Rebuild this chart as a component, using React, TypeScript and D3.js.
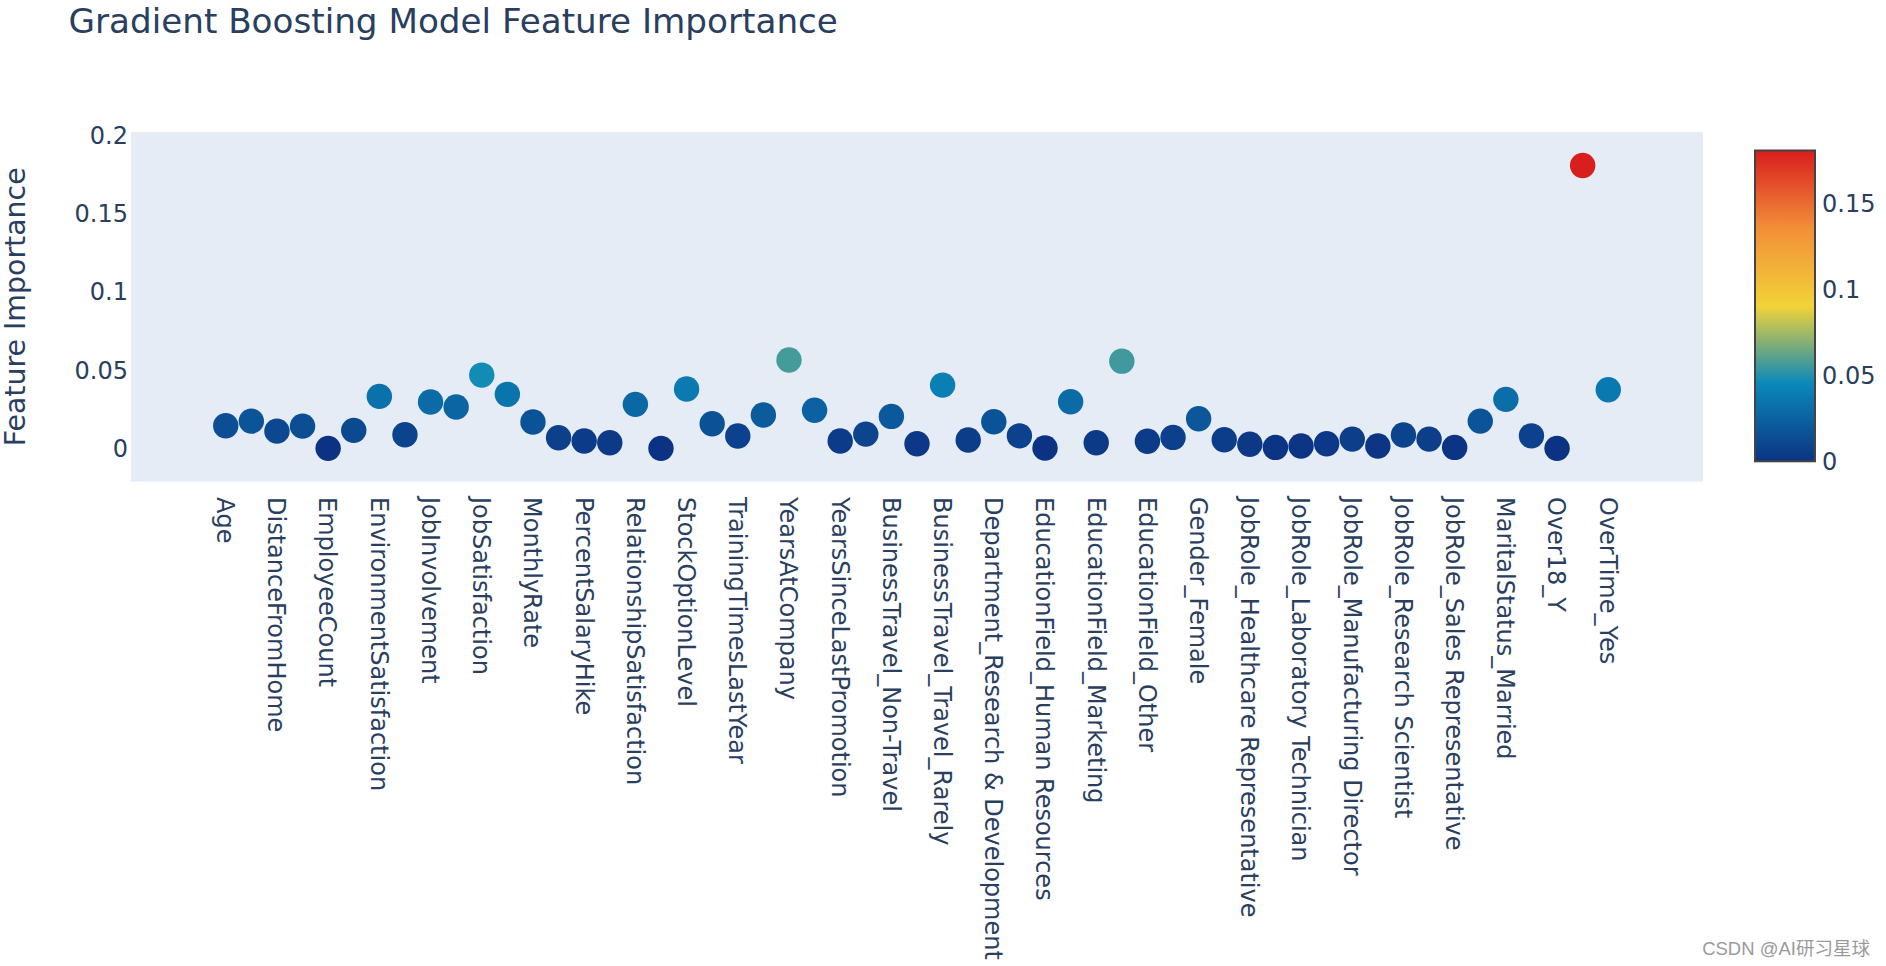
import React from "react";
import * as d3 from "d3";

const features: string[] = [
  "Age", "DailyRate", "DistanceFromHome", "Education", "EmployeeCount", "EmployeeNumber",
  "EnvironmentSatisfaction", "HourlyRate", "JobInvolvement", "JobLevel", "JobSatisfaction",
  "MonthlyIncome", "MonthlyRate", "NumCompaniesWorked", "PercentSalaryHike", "PerformanceRating",
  "RelationshipSatisfaction", "StandardHours", "StockOptionLevel", "TotalWorkingYears",
  "TrainingTimesLastYear", "WorkLifeBalance", "YearsAtCompany", "YearsInCurrentRole",
  "YearsSinceLastPromotion", "YearsWithCurrManager", "BusinessTravel_Non-Travel",
  "BusinessTravel_Travel_Frequently", "BusinessTravel_Travel_Rarely", "Department_Human Resources",
  "Department_Research & Development", "Department_Sales", "EducationField_Human Resources",
  "EducationField_Life Sciences", "EducationField_Marketing", "EducationField_Medical",
  "EducationField_Other", "EducationField_Technical Degree", "Gender_Female", "Gender_Male",
  "JobRole_Healthcare Representative", "JobRole_Human Resources", "JobRole_Laboratory Technician",
  "JobRole_Manager", "JobRole_Manufacturing Director", "JobRole_Research Director",
  "JobRole_Research Scientist", "JobRole_Sales Executive", "JobRole_Sales Representative",
  "MaritalStatus_Divorced", "MaritalStatus_Married", "MaritalStatus_Single", "Over18_Y",
  "OverTime_No", "OverTime_Yes",
];

const importance: number[] = [
  0.0144, 0.0174, 0.0110, 0.0142, 0.0000, 0.0115, 0.0332, 0.0087, 0.0296, 0.0264,
  0.0468, 0.0345, 0.0168, 0.0068, 0.0047, 0.0036, 0.0281, 0.0000, 0.0379, 0.0157,
  0.0079, 0.0213, 0.0564, 0.0243, 0.0047, 0.0091, 0.0204, 0.0029, 0.0404, 0.0053,
  0.0170, 0.0080, 0.0002, 0.0298, 0.0036, 0.0557, 0.0045, 0.0070, 0.0189, 0.0055,
  0.0026, 0.0006, 0.0015, 0.0029, 0.0059, 0.0015, 0.0085, 0.0059, 0.0006, 0.0174,
  0.0313, 0.0080, 0.0000, 0.1807, 0.0374,
];

const yTicks: number[] = [0, 0.05, 0.1, 0.15, 0.2];
const colorTicks: number[] = [0, 0.05, 0.1, 0.15];

const portlandStops: number[] = [0, 0.25, 0.5, 0.75, 1];
const portlandColors: string[] = [
  "rgb(12,51,131)", "rgb(10,136,186)", "rgb(242,211,56)", "rgb(242,143,56)", "rgb(217,30,30)",
];

const TITLE = "Gradient Boosting Model Feature Importance";
const Y_TITLE = "Feature Importance";
const WATERMARK = "CSDN @AI研习星球";

const W = 1886;
const H = 966;
const plot = { left: 131, right: 1703, top: 132, bottom: 481.7 };
const TEXT = "#2a3f5f";
const FONT = "'DejaVu Sans', Verdana, sans-serif";

export default function App() {
  const x = d3.scalePoint<string>().domain(features).range([plot.left, plot.right]).padding(3.7);
  const y = d3.scaleLinear().domain([-0.0213, 0.2021]).range([plot.bottom, plot.top]);

  const cmin = d3.min(importance) as number;
  const cmax = d3.max(importance) as number;
  const color = d3
    .scaleLinear<string>()
    .domain(portlandStops.map((s) => cmin + s * (cmax - cmin)))
    .range(portlandColors)
    .interpolate(d3.interpolateRgb);

  const cb = { x0: 1755, x1: 1815, bottom: 461.3 };
  const cbScale = d3.scaleLinear().domain([cmin, cmax]).range([cb.bottom, cb.bottom - (cmax - cmin) * 1720]);
  const cbTop = cbScale(cmax);

  return (
    <div style={{ position: "absolute", left: 0, top: 0, width: W, height: H, overflow: "hidden" }}>
      <svg width={W} height={H} style={{ display: "block", fontFamily: FONT }}>
        <defs>
          <linearGradient id="portland" x1="0" y1="1" x2="0" y2="0">
            {portlandStops.map((s, i) => (
              <stop key={i} offset={`${s * 100}%`} stopColor={portlandColors[i]} />
            ))}
          </linearGradient>
        </defs>
        <rect x={0} y={0} width={W} height={H} fill="#fff" />
        <rect
          x={plot.left}
          y={plot.top}
          width={plot.right - plot.left}
          height={plot.bottom - plot.top}
          fill="#E5ECF6"
        />
        {/* title */}
        <text x={68.5} y={32.5} fontSize={34.2} fill={TEXT}>
          {TITLE}
        </text>
        {/* y axis title */}
        <text
          transform={`translate(25,${(plot.top + plot.bottom) / 2}) rotate(-90)`}
          textAnchor="middle"
          fontSize={28.4}
          fill={TEXT}
        >
          {Y_TITLE}
        </text>
        {/* y ticks */}
        {yTicks.map((t) => (
          <text key={t} x={128} y={y(t)} dy="0.36em" textAnchor="end" fontSize={24} fill={TEXT}>
            {d3.format("~g")(t)}
          </text>
        ))}
        {/* x tick labels */}
        {features.map((f, i) =>
          i % 2 === 0 ? (
            <text
              key={f}
              transform={`translate(${x(f)},497) rotate(90)`}
              dy="0.36em"
              textAnchor="start"
              fontSize={24}
              fill={TEXT}
            >
              {f}
            </text>
          ) : null
        )}
        {/* points */}
        {features.map((f, i) => (
          <circle key={f} cx={x(f)} cy={y(importance[i])} r={12.7} fill={color(importance[i])} />
        ))}
        {/* colorbar */}
        <rect
          x={cb.x0}
          y={cbTop}
          width={cb.x1 - cb.x0}
          height={cb.bottom - cbTop}
          fill="url(#portland)"
          stroke="#444"
          strokeWidth={2}
        />
        {colorTicks.map((t) => (
          <text key={t} x={1822} y={cbScale(t)} dy="0.38em" fontSize={24} fill={TEXT}>
            {d3.format("~g")(t)}
          </text>
        ))}
        {/* watermark */}
        <text
          x={1870}
          y={955}
          textAnchor="end"
          fontSize={18.5}
          fill="#9a9a9a"
          style={{ fontFamily: "'Liberation Sans', 'Noto Sans CJK SC', sans-serif" }}
        >
          {WATERMARK}
        </text>
      </svg>
    </div>
  );
}
